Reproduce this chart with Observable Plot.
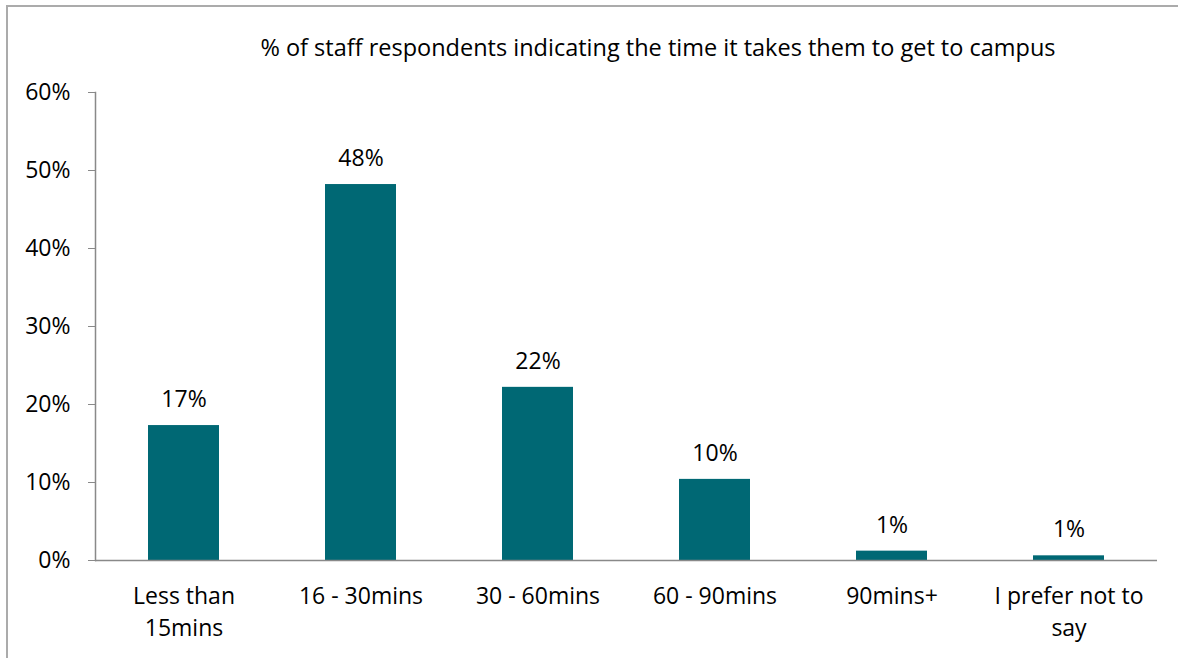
<!DOCTYPE html>
<html><head><meta charset="utf-8">
<script src="https://cdn.jsdelivr.net/npm/d3@7"></script>
<script src="https://cdn.jsdelivr.net/npm/@observablehq/plot@0.6"></script>
<style>
html,body{margin:0;padding:0;background:#fff;}
#wrap{position:relative;width:1178px;height:658px;overflow:hidden;font-family:"Open Sans",sans-serif;}
#border{position:absolute;left:6px;top:5px;width:1200px;height:700px;border-left:2px solid #ababab;border-top:2px solid #ababab;}
#title{position:absolute;left:158px;top:33px;width:1000px;text-align:center;font-size:23.5px;line-height:28px;color:#000;}
#chart{position:absolute;left:0;top:0;}
</style></head><body>
<div id="wrap"><div id="border"></div><div id="chart"></div><div id="title">% of staff respondents indicating the time it takes them to get to campus</div></div>
<script>
const categories = ["Less than\n15mins","16 - 30mins","30 - 60mins","60 - 90mins","90mins+","I prefer not to\nsay"];
const values = [17.3, 48.2, 22.2, 10.4, 1.2, 0.6];
const yTicks = [0,10,20,30,40,50,60];
const data = categories.map((c,i)=>({category:c, value:values[i]}));
const plot = Plot.plot({
  width:1178, height:658, marginTop:92, marginBottom:98, marginLeft:95, marginRight:21,
  style:{fontFamily:"'Open Sans', sans-serif", fontSize:"23px", color:"#000", background:"transparent"},
  x:{domain:categories, paddingInner:0.6, paddingOuter:0.3, label:null},
  y:{domain:[0,60], label:null},
  marks:[
    Plot.barY(data,{x:"category", y:"value", fill:"#006874"}),
    Plot.ruleY([0],{stroke:"#898989", strokeWidth:1.5}),
    Plot.frame({anchor:"left", stroke:"#898989", strokeWidth:1.5}),
    Plot.axisY({ticks:yTicks, tickSize:7, tickPadding:18, tickFormat:d=>d+"%", stroke:"#898989", fill:"#000", label:null}),
    Plot.axisX({tickSize:0, tickPadding:21, lineHeight:1.39, fill:"#000", label:null}),
    Plot.text(data,{x:"category", y:"value", text:d=>Math.round(d.value)+"%", dy:-26, lineAnchor:"middle", fill:"#000"})
  ]
});
document.getElementById("chart").appendChild(plot);
</script>
</body></html>
